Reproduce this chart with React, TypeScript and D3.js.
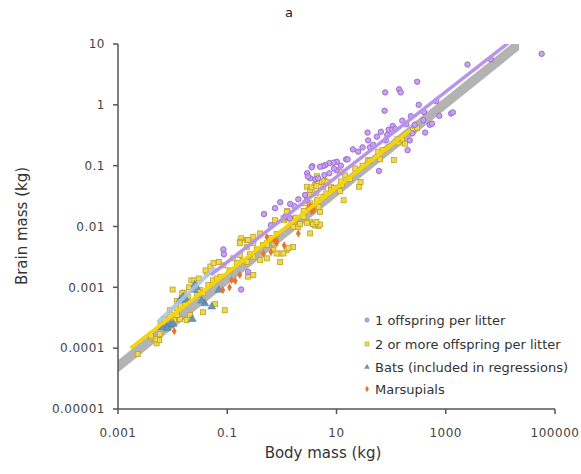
import * as d3 from "d3";

// body mass (kg), brain mass (kg)
const onePerLitter: [number, number][] = [
  [57000, 6.9], [6700, 5.6], [2500, 4.6], [300, 2.4], [140, 1.8], [150, 1.6],
  [78, 1.6], [76, 0.8], [670, 1.15], [400, 0.76], [1250, 0.72], [1350, 0.75],
  [760, 0.66], [510, 0.47], [560, 0.49], [390, 0.56], [420, 0.35], [245, 0.34],
  [270, 0.47], [190, 0.48], [220, 0.26], [200, 0.18], [107, 0.45], [90, 0.39],
  [105, 0.39], [120, 0.4], [85, 0.32], [80, 0.26], [37, 0.35], [38, 0.26],
  [41, 0.2], [47, 0.22], [20, 0.185], [60, 0.082], [15, 0.127], [10.1, 0.116],
  [8.8, 0.112], [7.4, 0.11], [6.2, 0.102], [5.6, 0.098], [5.0, 0.096], [3.6, 0.098],
  [2.9, 0.075], [3.3, 0.062], [0.47, 0.016], [0.75, 0.02], [0.93, 0.025],
  [1.42, 0.0235], [1.7, 0.0216], [0.63, 0.0105], [1.14, 0.0144], [1.4, 0.0136],
  [2.66, 0.033], [2.86, 0.027], [3.5, 0.094], [3.0, 0.066], [7.4, 0.075],
  [10, 0.084], [4.1, 0.06], [4.6, 0.062], [16, 0.127], [0.085, 0.0042],
  [0.087, 0.0035], [0.18, 0.00092], [0.24, 0.0018], [2, 0.028], [6, 0.07],
  [9, 0.09], [12, 0.1], [25, 0.17], [30, 0.2], [55, 0.3], [65, 0.36],
  [160, 0.55], [230, 0.65], [320, 1.0],
];

const twoOrMore: [number, number][] = [
  [0.0023, 0.00008], [0.0051, 0.00012], [0.0057, 0.000135], [0.0048, 0.00014],
  [0.0041, 0.00015], [0.004, 0.00016], [0.0058, 0.00017], [0.01, 0.00092],
  [0.016, 0.00082], [0.022, 0.0013], [0.025, 0.0013], [0.036, 0.00039],
  [0.06, 0.00053], [0.09, 0.00042], [0.018, 0.00029], [0.021, 0.00035],
  [0.0136, 0.0003], [0.0119, 0.00035], [0.0106, 0.00029], [0.0089, 0.00042],
  [0.042, 0.0017], [0.049, 0.0022], [0.056, 0.0025], [0.07, 0.0026],
  [0.085, 0.0023], [0.129, 0.003], [0.17, 0.0034], [0.228, 0.0026], [0.3, 0.0032],
  [0.4, 0.0028], [0.53, 0.003], [0.7, 0.0041], [0.93, 0.0036], [1.22, 0.0041],
  [1.6, 0.0046], [0.24, 0.0015], [0.3, 0.0016], [0.18, 0.0064], [0.23, 0.006],
  [0.4, 0.0077], [0.53, 0.0053], [0.93, 0.0026], [3.3, 0.0077], [4.7, 0.0102],
  [4.0, 0.0104], [3.3, 0.0118], [2.86, 0.045], [3.3, 0.04], [4.06, 0.048],
  [4.67, 0.054], [5.75, 0.045], [3.2, 0.033], [4.4, 0.027], [4.7, 0.021],
  [5.0, 0.0174], [3.3, 0.024], [1.26, 0.018], [1.1, 0.0127], [1.41, 0.0136],
  [0.75, 0.0127], [0.3, 0.0068], [0.24, 0.006], [0.17, 0.0056], [12.5, 0.048],
  [14.4, 0.069], [11.7, 0.078], [17.7, 0.06], [25.8, 0.045], [27.6, 0.054],
  [13.5, 0.027], [22, 0.09], [3.5, 0.044], [4.3, 0.046], [5.4, 0.054], [6, 0.056],
  [4.4, 0.067], [11.5, 0.038], [63, 0.127], [112, 0.124], [157, 0.264],
  [180, 0.23], [136, 0.24], [58, 0.17], [38, 0.123], [5.0, 0.0108], [4.06, 0.011],
  [1.23, 0.0174], [1.07, 0.0136], [1.62, 0.0099], [2.0, 0.0099], [2.15, 0.011],
  [0.71, 0.0053], [0.53, 0.005], [0.3, 0.0053], [0.23, 0.0046], [0.17, 0.0053],
  [1.07, 0.0036], [0.8, 0.0036], [1.32, 0.0044], [2.5, 0.0144], [2.66, 0.024],
  [4.3, 0.035], [6.8, 0.054], [7.9, 0.045], [5.75, 0.031], [3.7, 0.0109],
  [2.86, 0.0115], [4.3, 0.0119], [0.006, 0.00025], [0.007, 0.0003],
  [0.009, 0.00033], [0.012, 0.00045], [0.014, 0.0005], [0.017, 0.00055],
  [0.019, 0.0007], [0.028, 0.00075], [0.032, 0.0009], [0.036, 0.0008],
  [0.045, 0.0011], [0.055, 0.0013], [0.065, 0.0014], [0.075, 0.0015],
  [0.11, 0.0019], [0.15, 0.0025], [0.19, 0.0027], [0.26, 0.0035], [0.35, 0.0042],
  [0.45, 0.005], [0.6, 0.0065], [0.8, 0.0075], [1.5, 0.012], [1.8, 0.014],
  [2.5, 0.018], [6.5, 0.035], [8, 0.04], [9, 0.043], [12, 0.055], [30, 0.1],
  [40, 0.12], [70, 0.18], [90, 0.2], [130, 0.27], [250, 0.38], [300, 0.42],
  [0.012, 0.0006], [0.015, 0.0008], [0.02, 0.001], [0.03, 0.0014], [0.04, 0.0019],
];

const bats: [number, number][] = [
  [0.0078, 0.000224], [0.009, 0.00024], [0.0103, 0.00025], [0.008, 0.00021],
  [0.023, 0.0003], [0.039, 0.00054], [0.0136, 0.00062], [0.0155, 0.0007],
  [0.018, 0.00062], [0.0245, 0.0009], [0.0255, 0.0011], [0.0275, 0.001],
  [0.034, 0.0006], [0.052, 0.00048], [0.07, 0.0009], [0.0065, 0.00022],
];

const marsupials: [number, number][] = [
  [0.0107, 0.00019], [0.083, 0.0009], [0.63, 0.0038], [0.71, 0.006], [0.8, 0.0053],
  [1.1, 0.0049], [0.53, 0.0067], [0.12, 0.00131], [0.14, 0.00128], [2.0, 0.0077],
  [0.8, 0.0059], [3.8, 0.0186], [0.11, 0.001], [0.17, 0.0016], [3.05, 0.02],
  [3.5, 0.018], [0.46, 0.0036], [3.3, 0.022],
];

// regression lines (end points)
const allFit: [number, number][] = [[0.001, 0.00005], [22000, 10]];
const oneFit: [number, number][] = [[0.05, 0.0016], [14000, 10.4]];
const twoFit: [number, number][] = [[0.0017, 0.0001], [224, 0.385]];
const batFit: [number, number][] = [[0.0054, 0.00027], [0.06, 0.0021]];

const xTicks = [0.001, 0.1, 10, 1000, 100000];
const xTickLabels = ["0.001", "0.1", "10", "1000", "100000"];
const yTicks = [0.00001, 0.0001, 0.001, 0.01, 0.1, 1, 10];
const yTickLabels = ["0.00001", "0.0001", "0.001", "0.01", "0.1", "1", "10"];

const legendLabels = [
  "1 offspring per litter",
  "2 or more offspring per litter",
  "Bats (included in regressions)",
  "Marsupials",
];

const font = "'DejaVu Sans', Verdana, sans-serif";
const axisCol = "#555";

export default function App() {
  const width = 581;
  const height = 474;
  const x = d3.scaleLog().domain([0.001, 100000]).range([118, 555]);
  const y = d3.scaleLog().domain([0.00001, 10]).range([409, 44]);

  const line = d3
    .line<[number, number]>()
    .x((d) => x(d[0]))
    .y((d) => y(d[1]));

  const band = d3
    .area<[number, number]>()
    .x((d) => x(d[0]))
    .y0((d) => y(d[1] / 1.26))
    .y1((d) => y(d[1] * 1.26));

  const sq = 5;
  const tri = d3.symbol(d3.symbolTriangle, 26)();
  const dia = d3.symbol(d3.symbolDiamond, 20)();
  const triS = d3.symbol(d3.symbolTriangle, 14)();
  const diaS = d3.symbol(d3.symbolDiamond, 12)();

  const legendY = [320, 344, 367, 389];

  return (
    <svg
      width={width}
      height={height}
      style={{ position: "absolute", left: 0, top: 0, background: "#fff" }}
      fontFamily={font}
    >
      <defs>
        <clipPath id="plot">
          <rect x={118} y={44} width={437} height={365} />
        </clipPath>
      </defs>
      <text x={289} y={17} textAnchor="middle" fontSize={13} fill="#222">
        a
      </text>

      <g clipPath="url(#plot)">
        <path d={band(allFit) || ""} fill="#b3b3b3" />
        {twoOrMore.map((d, i) => (
          <rect
            key={"t" + i}
            x={x(d[0]) - sq / 2}
            y={y(d[1]) - sq / 2}
            width={sq}
            height={sq}
            fill="#f3d94a"
            stroke="#b9a22a"
            strokeWidth={0.8}
          />
        ))}
        {onePerLitter.map((d, i) => (
          <circle
            key={"o" + i}
            cx={x(d[0])}
            cy={y(d[1])}
            r={2.7}
            fill="#c8a4ee"
            stroke="#9a6bd4"
            strokeWidth={1}
          />
        ))}
        {bats.map((d, i) => (
          <path
            key={"b" + i}
            d={tri || ""}
            transform={`translate(${x(d[0])},${y(d[1])})`}
            fill="#6a93b5"
            stroke="#4f7696"
            strokeWidth={0.5}
          />
        ))}
        {marsupials.map((d, i) => (
          <path
            key={"m" + i}
            d={dia || ""}
            transform={`translate(${x(d[0])},${y(d[1])})`}
            fill="#e5762c"
          />
        ))}
        <path d={line(batFit) || ""} stroke="#a9c6ea" strokeWidth={4} fill="none" opacity={0.85} />
        <path d={line(oneFit) || ""} stroke="#b794ea" strokeWidth={3.5} fill="none" />
        <path d={line(twoFit) || ""} stroke="#f6d500" strokeWidth={3.5} fill="none" />
      </g>

      {/* axes */}
      <line x1={118} x2={118} y1={44} y2={409} stroke={axisCol} strokeWidth={1.5} />
      <line x1={118} x2={555} y1={409} y2={409} stroke={axisCol} strokeWidth={1.5} />
      {yTicks.map((t, i) => (
        <g key={"yt" + i}>
          <line x1={113} x2={118} y1={y(t)} y2={y(t)} stroke={axisCol} strokeWidth={1.5} />
          <text
            x={105}
            y={y(t)}
            dy="0.36em"
            textAnchor="end"
            fontSize={12}
            letterSpacing={0.5}
            fill="#444"
          >
            {yTickLabels[i]}
          </text>
        </g>
      ))}
      {xTicks.map((t, i) => (
        <g key={"xt" + i}>
          <line x1={x(t)} x2={x(t)} y1={409} y2={414} stroke={axisCol} strokeWidth={1.5} />
          <text
            x={x(t)}
            y={437}
            textAnchor="middle"
            fontSize={12}
            letterSpacing={0.5}
            fill="#444"
          >
            {xTickLabels[i]}
          </text>
        </g>
      ))}
      <text x={323} y={458} textAnchor="middle" fontSize={15} fill="#333">
        Body mass (kg)
      </text>
      <text
        transform="translate(27,226) rotate(-90)"
        textAnchor="middle"
        fontSize={15}
        fill="#333"
      >
        Brain mass (kg)
      </text>

      {/* legend */}
      <g fontSize={13} fill="#333">
        <circle cx={367} cy={legendY[0]} r={2} fill="#c8a4ee" stroke="#9a6bd4" strokeWidth={0.8} />
        <rect x={365} y={legendY[1] - 2} width={4} height={4} fill="#f3d94a" stroke="#b9a22a" strokeWidth={0.6} />
        <path d={triS || ""} transform={`translate(367,${legendY[2]})`} fill="#6a93b5" />
        <path d={diaS || ""} transform={`translate(367,${legendY[3]})`} fill="#e5762c" />
        {legendLabels.map((l, i) => (
          <text key={"l" + i} x={375} y={legendY[i]} dy="0.36em">
            {l}
          </text>
        ))}
      </g>
    </svg>
  );
}
